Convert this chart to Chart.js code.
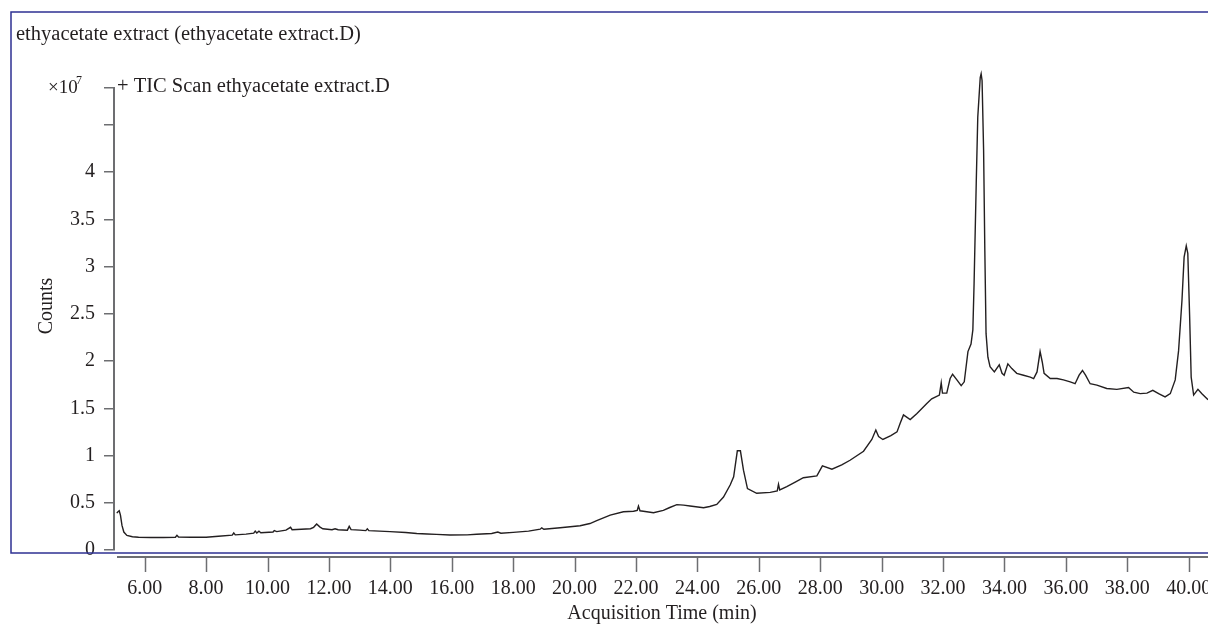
<!DOCTYPE html>
<html>
<head>
<meta charset="utf-8">
<script src="https://cdn.jsdelivr.net/npm/chart.js@4.4.1/dist/chart.umd.min.js"></script>
<style>
    html, body { margin: 0; padding: 0; background: #ffffff; overflow: hidden; }
    /* the printout is cut at the right edge, so the canvas runs past the window */
    #wrap { position: relative; width: 1208px; height: 630px; overflow: hidden; }
</style>
</head>
<body>
<div id="wrap"><canvas id="ticChart" width="1240" height="630"></canvas></div>
<script>
// Acquisition time (min) and TIC counts (x10^7)
const acqTime = [
    5.09, 5.13, 5.17, 5.21, 5.26, 5.32, 5.42, 5.6, 5.8, 6.2, 6.6, 7.0, 7.05, 7.1, 7.5, 8.0,
    8.4, 8.85, 8.9, 8.95, 9.3, 9.55, 9.6, 9.65, 9.72, 9.78, 10.18, 10.22, 10.3, 10.6, 10.75, 10.8,
    11.1, 11.4, 11.5, 11.6, 11.7, 11.8, 12.1, 12.2, 12.3, 12.6, 12.66, 12.72, 13.0, 13.2, 13.25, 13.3,
    13.99, 14.5, 14.86, 15.2, 15.5, 15.94, 16.5, 16.81, 17.3, 17.5, 17.6, 18.0, 18.5, 18.88, 18.93, 19.0,
    19.53, 20.18, 20.5, 20.72, 21.16, 21.59, 21.92, 22.04, 22.08, 22.13, 22.24, 22.57, 22.89, 23.1, 23.33, 23.55,
    23.76, 24.2, 24.4, 24.63, 24.85, 25.07, 25.18, 25.3, 25.4, 25.5, 25.63, 25.93, 26.37, 26.6, 26.64, 26.68,
    26.91, 27.2, 27.45, 27.89, 28.07, 28.38, 28.7, 28.97, 29.41, 29.68, 29.81, 29.9, 30.04, 30.3, 30.5, 30.6,
    30.71, 30.93, 31.15, 31.47, 31.63, 31.88, 31.94, 31.98, 32.12, 32.23, 32.31, 32.45, 32.59, 32.69, 32.81, 32.91,
    32.97, 33.01, 33.08, 33.13, 33.21, 33.24, 33.27, 33.32, 33.36, 33.40, 33.46, 33.53, 33.67, 33.83, 33.92, 33.99,
    34.11, 34.24, 34.40, 34.62, 34.84, 34.95, 35.06, 35.16, 35.23, 35.29, 35.49, 35.71, 35.92, 36.14, 36.30, 36.43,
    36.54, 36.64, 36.79, 37.01, 37.33, 37.66, 38.04, 38.21, 38.42, 38.64, 38.83, 39.02, 39.23, 39.40, 39.56, 39.67,
    39.78, 39.85, 39.92, 39.97, 40.03, 40.08, 40.16, 40.30, 40.43, 40.63
];
const ticCounts = [
    0.39, 0.405, 0.415, 0.37, 0.26, 0.19, 0.155, 0.14, 0.135, 0.132, 0.132, 0.135, 0.155, 0.137, 0.135, 0.135,
    0.145, 0.158, 0.18, 0.16, 0.168, 0.178, 0.2, 0.18, 0.2, 0.182, 0.19, 0.205, 0.195, 0.21, 0.24, 0.215,
    0.22, 0.225, 0.24, 0.275, 0.245, 0.225, 0.215, 0.225, 0.215, 0.21, 0.25, 0.215, 0.21, 0.205, 0.225, 0.205,
    0.195, 0.185, 0.175, 0.17, 0.165, 0.158, 0.16, 0.166, 0.175, 0.19, 0.178, 0.187, 0.2, 0.22, 0.235, 0.22,
    0.235, 0.257, 0.28, 0.31, 0.37, 0.405, 0.41, 0.42, 0.465, 0.415, 0.41, 0.395, 0.42, 0.45, 0.48, 0.475,
    0.465, 0.447, 0.46, 0.483, 0.56, 0.69, 0.775, 1.05, 1.05, 0.845, 0.65, 0.60, 0.61, 0.625, 0.695, 0.635,
    0.67, 0.72, 0.765, 0.785, 0.89, 0.855, 0.9, 0.95, 1.045, 1.17, 1.27, 1.2, 1.17, 1.21, 1.25, 1.34,
    1.43, 1.38, 1.445, 1.55, 1.60, 1.64, 1.77, 1.66, 1.66, 1.815, 1.86, 1.80, 1.74, 1.78, 2.10, 2.18,
    2.33, 2.82, 3.88, 4.58, 5.0, 5.04, 4.97, 4.23, 3.17, 2.29, 2.04, 1.94, 1.885, 1.96, 1.87, 1.85,
    1.97, 1.92, 1.87, 1.85, 1.83, 1.815, 1.885, 2.10, 1.99, 1.87, 1.815, 1.815, 1.80, 1.78, 1.76, 1.85,
    1.90, 1.85, 1.76, 1.745, 1.71, 1.70, 1.72, 1.67, 1.655, 1.66, 1.69, 1.655, 1.62, 1.655, 1.80, 2.11,
    2.64, 3.10, 3.22, 3.14, 2.47, 1.83, 1.64, 1.70, 1.655, 1.59
];
const xTickValues = [6, 8, 10, 12, 14, 16, 18, 20, 22, 24, 26, 28, 30, 32, 34, 36, 38, 40];
const yTickValues = [0, 0.5, 1, 1.5, 2, 2.5, 3, 3.5, 4, 4.5];
const yLabelled = [0, 0.5, 1, 1.5, 2, 2.5, 3, 3.5, 4];
const yAxisTop = 4.89;
const xMin = 5.0;
const xMax = 41.67;

const textColor = '#231f20';
const axisColor = '#6d6e71';
const frameColor = '#2e3192';
const serif = "'Liberation Serif', 'DejaVu Serif', serif";

// frame, titles, x10^7 marker and the detached x axis line
const decorPlugin = {
    id: 'decor',
    afterDraw(chart) {
        const ctx = chart.ctx;
        const xScale = chart.scales.x;
        ctx.save();

        ctx.strokeStyle = frameColor;
        ctx.lineWidth = 1.5;
        ctx.strokeRect(11, 12, 1300, 541);

        ctx.fillStyle = textColor;
        ctx.textBaseline = 'alphabetic';
        ctx.textAlign = 'left';
        ctx.font = '20.5px ' + serif;
        ctx.fillText('ethyacetate extract (ethyacetate extract.D)', 16, 40);
        ctx.fillText('+ TIC Scan ethyacetate extract.D', 117, 92);

        ctx.font = '19px ' + serif;
        ctx.fillText('\u00d710', 48, 93);
        ctx.font = '12px ' + serif;
        ctx.fillText('7', 76, 84);

        // axis titles
        ctx.font = '20px ' + serif;
        ctx.textAlign = 'center';
        ctx.textBaseline = 'middle';
        ctx.fillText('Acquisition Time (min)', 662, 614);
        ctx.save();
        ctx.translate(47, 306);
        ctx.rotate(-Math.PI / 2);
        ctx.fillText('Counts', 0, 0);
        ctx.restore();

        // x axis sits a little below the plot, as in the instrument printout
        ctx.strokeStyle = axisColor;
        ctx.lineWidth = 2;
        ctx.beginPath();
        ctx.moveTo(117, 557);
        ctx.lineTo(chart.width, 557);
        ctx.stroke();
        ctx.lineWidth = 1.5;
        xTickValues.forEach(v => {
            const px = Math.round(xScale.getPixelForValue(v)) + 0.5;
            ctx.beginPath();
            ctx.moveTo(px, 557);
            ctx.lineTo(px, 572);
            ctx.stroke();
        });
        ctx.restore();
    }
};

const ticChart = new Chart(document.getElementById('ticChart'), {
    type: 'line',
    data: {
        datasets: [{
            label: 'TIC Scan',
            data: acqTime.map((t, i) => ({ x: t, y: ticCounts[i] })),
            borderColor: textColor,
            borderWidth: 1.4,
            pointRadius: 0,
            tension: 0,
            fill: false,
            clip: false
        }]
    },
    options: {
        responsive: false,
        animation: false,
        layout: {
            padding: { left: 10, top: 88, right: 0, bottom: 0 }
        },
        plugins: {
            legend: { display: false },
            tooltip: { enabled: false }
        },
        scales: {
            x: {
                type: 'linear',
                min: xMin,
                max: xMax,
                afterFit: scale => { scale.height = 80; },
                afterBuildTicks: scale => {
                    scale.ticks = xTickValues.map(v => ({ value: v }));
                },
                grid: { display: false, drawTicks: false },
                border: { display: false },
                ticks: {
                    autoSkip: false,
                    maxRotation: 0,
                    padding: 27,
                    color: textColor,
                    font: { family: serif, size: 20 },
                    callback: value => value.toFixed(2)
                }
            },
            y: {
                min: 0,
                max: yAxisTop,
                afterFit: scale => { scale.width = 104; },
                afterBuildTicks: scale => {
                    scale.ticks = yTickValues.concat([yAxisTop]).map(v => ({ value: v }));
                },
                grid: {
                    drawOnChartArea: false,
                    drawTicks: true,
                    tickLength: 10,
                    color: axisColor,
                    lineWidth: 1.5
                },
                border: { display: true, color: axisColor, width: 2 },
                ticks: {
                    padding: 9,
                    color: textColor,
                    font: { family: serif, size: 20 },
                    callback: value => yLabelled.includes(value) ? String(value) : ''
                }
            }
        }
    },
    plugins: [decorPlugin]
});
</script>
</body>
</html>
